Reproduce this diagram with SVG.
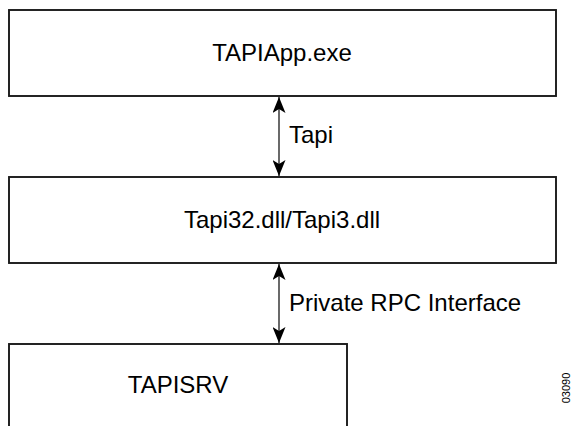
<svg xmlns="http://www.w3.org/2000/svg" width="572" height="426" viewBox="0 0 572 426">
  <style>
    .box { fill: #ffffff; stroke: #1a1a1a; stroke-width: 1.9; }
    .lbl { font-family: "Liberation Sans", Arial, sans-serif; font-size: 24px; fill: #000000; }
    .mid { text-anchor: middle; }
    .conn { stroke: #1a1a1a; stroke-width: 1.3; fill: none; marker-start: url(#head); marker-end: url(#head); }
    .tag { font-family: "Liberation Sans", Arial, sans-serif; font-size: 11px; fill: #000000; }
  </style>
  <defs>
    <!-- notched arrowhead used at both ends of each connector -->
    <marker id="head" viewBox="0 0 16 13" refX="16" refY="6.5" markerWidth="16" markerHeight="13" markerUnits="userSpaceOnUse" orient="auto-start-reverse">
      <path d="M0,0 L16,6.5 L0,13 L4,6.5 Z" fill="#000000"/>
    </marker>
  </defs>
  <rect width="572" height="426" fill="#ffffff"/>

  <g id="tapiapp">
    <rect class="box" x="9" y="10" width="547" height="86"/>
    <text class="lbl mid" x="282" y="61">TAPIApp.exe</text>
  </g>

  <g id="tapi32">
    <rect class="box" x="9" y="177" width="547" height="86"/>
    <text class="lbl mid" x="282" y="228">Tapi32.dll/Tapi3.dll</text>
  </g>

  <g id="tapisrv">
    <rect class="box" x="9" y="344" width="338" height="100"/>
    <text class="lbl mid" x="178" y="393">TAPISRV</text>
  </g>

  <g id="connectors">
    <line class="conn" x1="279" y1="97" x2="279" y2="176"/>
    <text class="lbl" x="289" y="143">Tapi</text>
    <line class="conn" x1="279" y1="264" x2="279" y2="343"/>
    <text class="lbl" x="289" y="311">Private RPC Interface</text>
  </g>

  <text class="tag" transform="translate(570,388) rotate(-90)" text-anchor="middle">03090</text>
</svg>
